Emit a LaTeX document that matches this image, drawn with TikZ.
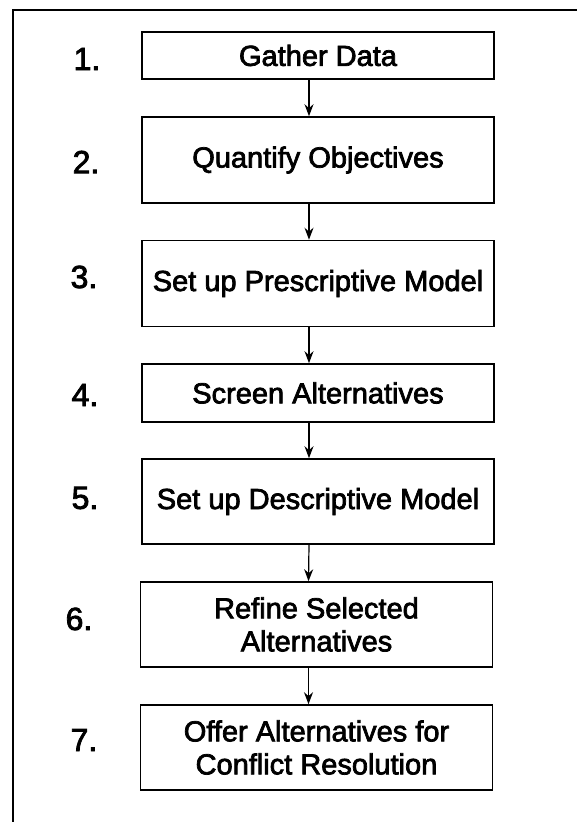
\documentclass[tikz,border=0pt]{standalone}
\usepackage{fontspec}
\setmainfont{Liberation Sans}[BoldFont=Liberation Sans, BoldFeatures={FakeBold=2.5}]
\usepackage{tikz}
\usetikzlibrary{arrows.meta}

\tikzset{
  stepbox/.style={draw, line width=1.6pt, minimum width=352pt, inner sep=0pt,
    align=center, font=\fontsize{29}{33}\selectfont\bfseries},
  steplabel/.style={font=\fontsize{32}{36}\selectfont\bfseries},
  flow/.style={line width=1.2pt, -{Stealth[length=12pt, width=9pt]}}
}

\begin{document}
\begin{tikzpicture}[x=1pt, y=-1pt]
          \useasboundingbox (0, 0) rectangle (576, 822);

          % frame, cut at the right and bottom
          \coordinate (frame-tr) at (580, 10);
          \coordinate (frame-tl) at (13, 10);
          \coordinate (frame-bl) at (13, 826);
          \draw[line width=2pt] (frame-tr) -- (frame-tl) -- (frame-bl);

          \node[stepbox, minimum height=47pt] (b1) at (318, 55.5) {Gather Data};
          \node[stepbox, minimum height=86pt] (b2) at (318, 160) {Quantify Objectives};
          \node[stepbox, minimum height=86pt] (b3) at (318, 283.5) {Set up Prescriptive Model};
          \node[stepbox, minimum height=58pt] (b4) at (318, 393) {Screen Alternatives};
          \node[stepbox, minimum height=85pt] (b5) at (318, 501.5) {Set up Descriptive Model};
          \node[stepbox, minimum height=85pt] (b6) at (316.5, 624.5) {Refine Selected\\Alternatives};
          \node[stepbox, minimum height=85pt] (b7) at (316.5, 747.5) {Offer Alternatives for\\Conflict Resolution};

          \node[steplabel] (n1) at (87, 59) {1.};
          \node[steplabel] (n2) at (86, 162) {2.};
          \node[steplabel] (n3) at (84, 277) {3.};
          \node[steplabel] (n4) at (85, 395) {4.};
          \node[steplabel] (n5) at (85, 498) {5.};
          \node[steplabel] (n6) at (79, 619) {6.};
          \node[steplabel] (n7) at (84, 740) {7.};

          \draw[flow] ([xshift=-9pt]b1.south) -- ([xshift=-9pt]b2.north);
          \draw[flow] ([xshift=-9pt]b2.south) -- ([xshift=-9pt]b3.north);
          \draw[flow] ([xshift=-9pt]b3.south) -- ([xshift=-9pt]b4.north);
          \draw[flow] ([xshift=-9pt]b4.south) -- ([xshift=-9pt]b5.north);
          \draw[flow] ([xshift=-9pt]b5.south) -- ([xshift=-8pt]b6.north);
          \draw[flow] ([xshift=-8pt]b6.south) -- ([xshift=-8pt]b7.north);

        \end{tikzpicture}
\end{document}
